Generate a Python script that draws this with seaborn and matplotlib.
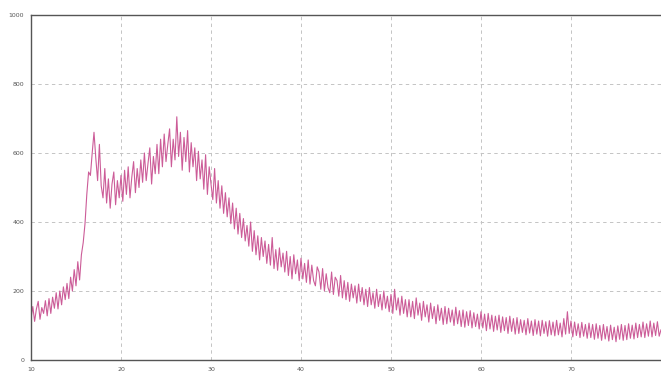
import numpy as np
import pandas as pd
import matplotlib
matplotlib.use("Agg")
import matplotlib.pyplot as plt
from matplotlib.ticker import MultipleLocator
import seaborn as sns

# 2-theta axis (degrees), 0.2 degree steps from 10 to 80
two_theta = np.round(np.arange(10.0, 80.01, 0.2), 1)

# Intensity (counts), 10 values per 2 degrees
intensity = [
    120, 155, 112, 148, 170, 118, 152, 135, 172, 128,   # 10-12
    178, 135, 182, 150, 195, 148, 200, 160, 212, 175,   # 12-14
    222, 178, 240, 200, 262, 215, 285, 232, 305, 340,   # 14-16
    395, 480, 545, 535, 600, 660, 585, 520, 625, 505,   # 16-18
    470, 555, 455, 525, 440, 510, 545, 450, 520, 470,   # 18-20
    535, 460, 550, 480, 560, 470, 530, 575, 485, 555,   # 20-22
    500, 580, 515, 600, 520, 570, 615, 510, 590, 540,   # 22-24
    625, 540, 640, 560, 655, 575, 625, 670, 560, 640,   # 24-26
    580, 705, 590, 660, 550, 645, 575, 665, 545, 630,   # 26-28
    560, 615, 520, 605, 525, 580, 495, 595, 480, 560,   # 28-30
    510, 465, 555, 455, 520, 440, 505, 425, 485, 415,   # 30-32
    470, 395, 455, 380, 440, 365, 425, 355, 410, 345,   # 32-34
    390, 330, 400, 315, 375, 305, 360, 290, 355, 300,   # 34-36
    345, 280, 335, 275, 355, 265, 320, 260, 325, 270,   # 36-38
    310, 255, 315, 245, 300, 235, 305, 250, 290, 230,   # 38-40
    295, 235, 280, 225, 290, 220, 275, 230, 215, 270,   # 40-42
    255, 205, 265, 200, 250, 210, 195, 255, 190, 240,   # 42-44
    230, 185, 245, 180, 230, 175, 225, 170, 220, 180,   # 44-46
    215, 165, 220, 170, 210, 160, 205, 155, 210, 160,   # 46-48
    195, 150, 205, 155, 190, 145, 200, 150, 185, 140,   # 48-50
    190, 135, 205, 145, 180, 130, 185, 135, 175, 125,   # 50-52
    175, 125, 170, 120, 180, 130, 165, 115, 170, 125,   # 52-54
    160, 110, 165, 120, 155, 105, 160, 115, 150, 103,   # 54-56
    155, 105, 150, 110, 145, 100, 153, 105, 143, 97,    # 56-58
    145, 95, 140, 100, 143, 93, 137, 97, 133, 90,       # 58-60
    140, 93, 133, 85, 135, 90, 130, 83, 127, 87,        # 60-62
    130, 80, 125, 85, 123, 77, 127, 83, 120, 75,        # 62-64
    123, 77, 117, 80, 115, 73, 120, 78, 113, 71,        # 64-66
    117, 75, 113, 70, 115, 77, 111, 69, 114, 73,        # 66-68
    110, 70, 115, 73, 107, 67, 120, 75, 140, 77,        # 68-70
    113, 67, 110, 71, 105, 65, 109, 69, 103, 63,        # 70-72
    107, 65, 103, 60, 105, 63, 100, 57, 103, 61,        # 72-74
    97, 55, 101, 59, 95, 53, 99, 60, 103, 57,           # 74-76
    100, 59, 105, 63, 101, 61, 107, 65, 103, 67,        # 76-78
    110, 65, 105, 69, 113, 67, 107, 71, 111, 69,        # 78-80
    88,
]

x_ticks = [10, 20, 30, 40, 50, 60, 70]
y_ticks = [0, 200, 400, 600, 800, 1000]

df = pd.DataFrame({"two_theta": two_theta, "intensity": intensity})

sns.set_style("white")
fig = plt.figure(figsize=(6.61, 3.72), dpi=100)
ax = fig.add_axes([31 / 661, 12 / 372, 630 / 661, 345 / 372])

sns.lineplot(data=df, x="two_theta", y="intensity", ax=ax,
             color="#cc5c98", linewidth=0.8)

ax.set_xlim(10, 80)
ax.set_ylim(0, 1000)
ax.set_xticks(x_ticks)
ax.set_yticks(y_ticks)
ax.set_xticklabels([str(t) for t in x_ticks])
ax.set_yticklabels([str(t) for t in y_ticks])
ax.xaxis.set_minor_locator(MultipleLocator(1))
ax.yaxis.set_minor_locator(MultipleLocator(40))
ax.tick_params(axis="both", which="major", labelsize=4.5, colors="#555555",
               length=3, width=0.6, pad=2)
ax.tick_params(axis="both", which="minor", length=2, width=0.5, colors="#666666")
ax.set_xlabel("")
ax.set_ylabel("")

ax.grid(True, which="major", color="#c4c4c4", linestyle=(0, (3.5, 3.5)), linewidth=0.7)
for side in ["left", "bottom", "top"]:
    ax.spines[side].set_color("#555555")
    ax.spines[side].set_linewidth(1.0)
ax.spines["right"].set_visible(False)

fig.savefig("out.png", dpi=100)
